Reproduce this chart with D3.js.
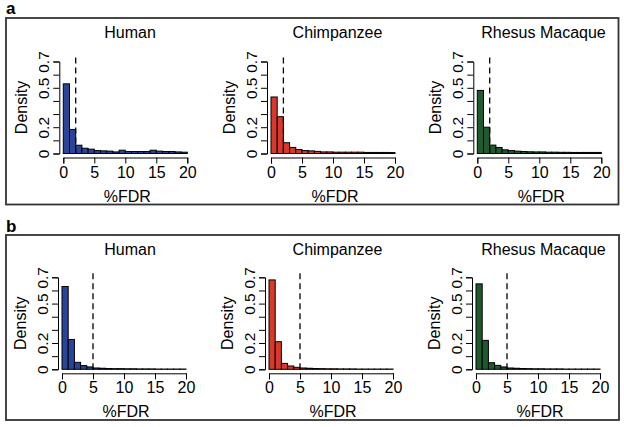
<!DOCTYPE html>
<html><head><meta charset="utf-8">
<script src="https://cdn.jsdelivr.net/npm/d3@7"></script>
<style>body{margin:0;background:#fff}svg{display:block}text{font-family:"Liberation Sans",Arial,sans-serif}</style>
</head><body>
<script>
const binEdges = d3.range(0, 21, 1);
const species = ["Human", "Chimpanzee", "Rhesus Macaque"];
const colors = ["#2a4597", "#d8392a", "#1f5a2f"];
const xTicks = [0, 5, 10, 15, 20];
const yTicks = [0, 0.1, 0.2, 0.3, 0.4, 0.5, 0.6, 0.7];
const yLabels = [0, 0.2, 0.5, 0.7];
const thresholdA = 2, thresholdB = 5;
const aHuman  = [0.53,0.183,0.063,0.04,0.033,0.022,0.02,0.018,0.012,0.025,0.015,0.015,0.015,0.015,0.025,0.018,0.015,0.015,0.012,0.01];
const aChimp  = [0.43,0.28,0.082,0.046,0.03,0.022,0.02,0.016,0.012,0.012,0.01,0.01,0.01,0.01,0.01,0.008,0.008,0.008,0.008,0.007];
const aRhesus = [0.48,0.2,0.064,0.046,0.028,0.022,0.018,0.015,0.013,0.012,0.012,0.01,0.01,0.009,0.009,0.008,0.008,0.008,0.008,0.008];
const bHuman  = [0.63,0.227,0.053,0.028,0.018,0.01,0.008,0.006,0.005,0.005,0.004,0.004,0.003,0.003,0.003,0.002,0.002,0.002,0.002,0.002];
const bChimp  = [0.68,0.21,0.045,0.025,0.015,0.01,0.008,0.006,0.005,0.004,0.004,0.003,0.003,0.003,0.002,0.002,0.002,0.002,0.002,0.002];
const bRhesus = [0.65,0.22,0.05,0.03,0.018,0.01,0.008,0.006,0.005,0.004,0.004,0.003,0.003,0.003,0.002,0.002,0.002,0.002,0.002,0.002];

const svg = d3.select("body").append("svg").attr("width", 624).attr("height", 427);

const rows = [
  {label: "a", box: [6, 18, 612.5, 186.5], labY: 14, thr: thresholdA, data: [aHuman, aChimp, aRhesus],
   x0s: [63.3, 271, 477.3], y0: 153.5, titleY: 38, tickY: 178, xlabY: 202},
  {label: "b", box: [6, 235, 613, 185], labY: 232, thr: thresholdB, data: [bHuman, bChimp, bRhesus],
   x0s: [62, 269, 476], y0: 369.3, titleY: 255, tickY: 393, xlabY: 417}
];
const titleCx = [130, 337.5, 543.5];

rows.forEach(row => {
  svg.append("rect").attr("x", row.box[0]).attr("y", row.box[1]).attr("width", row.box[2]).attr("height", row.box[3])
    .attr("fill", "none").attr("stroke", "#333").attr("stroke-width", 1.8);
  svg.append("text").attr("x", 6).attr("y", row.labY).attr("font-size", 17).attr("font-weight", "bold").text(row.label);

  species.forEach((sp, i) => {
    const x = d3.scaleLinear().domain([0, 20]).range([row.x0s[i], row.x0s[i] + 124]);
    const y = d3.scaleLinear().domain([0, 0.7]).range([row.y0, row.y0 - 92]);
    const g = svg.append("g");
    const vals = row.data[i];
    g.selectAll("rect.bar").data(vals).join("rect").attr("class", "bar")
      .attr("x", (d, j) => x(binEdges[j]))
      .attr("width", (d, j) => x(binEdges[j + 1]) - x(binEdges[j]))
      .attr("y", d => y(d))
      .attr("height", d => y(0) - y(d))
      .attr("fill", colors[i]).attr("stroke", "#000").attr("stroke-width", 1);
    g.append("line").attr("x1", x(row.thr)).attr("x2", x(row.thr))
      .attr("y1", y(0.73)).attr("y2", y(0))
      .attr("stroke", "#000").attr("stroke-width", 1.3).attr("stroke-dasharray", "6,4");

    const yAx = g.append("g").attr("transform", `translate(${x(0) - 4},0)`)
      .call(d3.axisLeft(y).tickValues(yTicks).tickSizeOuter(0).tickSize(6)
        .tickFormat(d => yLabels.some(v => Math.abs(v - d) < 1e-9) ? (d === 0 ? "0" : d3.format(".1f")(d)) : ""));
    yAx.select(".domain").attr("stroke", "#000");
    yAx.selectAll("text").attr("font-size", 15.5).attr("fill", "#000").attr("font-family", '"Liberation Sans",Arial,sans-serif')
      .attr("transform", "rotate(-90)").attr("text-anchor", "middle")
      .attr("x", 0).attr("y", -10).attr("dy", 0);

    const xAx = g.append("g").attr("transform", `translate(0,${row.y0 + 4})`)
      .call(d3.axisBottom(x).tickValues(xTicks).tickSizeOuter(0).tickSize(6).tickFormat(d3.format("d")));
    xAx.select(".domain").attr("stroke", "#000");
    xAx.selectAll("text").attr("font-size", 16).attr("fill", "#000").attr("font-family", '"Liberation Sans",Arial,sans-serif')
      .attr("y", row.tickY - row.y0 - 4).attr("dy", 0);

    svg.append("text").attr("x", titleCx[i]).attr("y", row.titleY).attr("text-anchor", "middle").attr("font-size", 16).text(sp);
    svg.append("text").attr("x", x(10) + 2).attr("y", row.xlabY).attr("text-anchor", "middle").attr("font-size", 16).text("%FDR");
    svg.append("text").attr("transform", `translate(${x(0) - 36},${y(0.35)}) rotate(-90)`)
      .attr("text-anchor", "middle").attr("font-size", 16).text("Density");
  });
});
</script>
</body></html>
